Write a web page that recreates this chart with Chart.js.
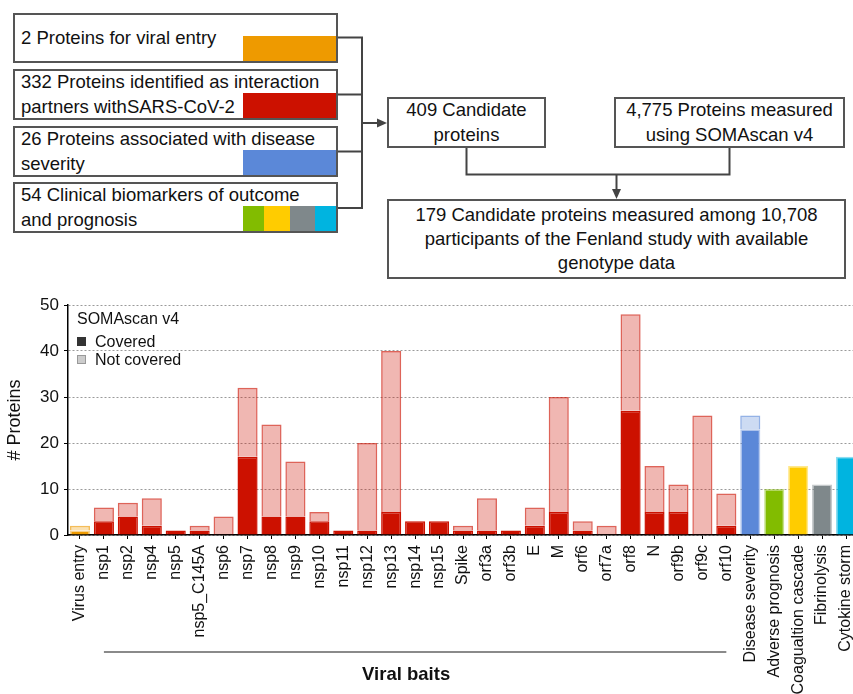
<!DOCTYPE html>
<html>
<head>
<meta charset="utf-8">
<script src="https://cdn.jsdelivr.net/npm/chart.js@4.4.1/dist/chart.umd.min.js"></script>
<style>
  html, body { margin: 0; padding: 0; width: 853px; height: 694px; overflow: hidden; background: #fff; }
  body { position: relative; font-family: "Liberation Sans", Arial, Helvetica, sans-serif; color: #111; }
  .box { position: absolute; box-sizing: border-box; border: 2px solid #555; background: #fff;
         font-size: 18.5px; line-height: 24.5px; display: flex; align-items: center; }
  .src { left: 13px; width: 325px; height: 51px; padding-left: 6px; }
  .mid { justify-content: center; text-align: center; }
  .swatch { position: absolute; right: 0; bottom: 0; height: 25px; display: flex; }
  .swatch span { display: block; height: 100%; }
  #flow { position: absolute; left: 0; top: 0; }
  #chartWrap { position: absolute; left: 0; top: 290px; width: 860px; height: 404px; }
  .leg { position: absolute; font-size: 16px; line-height: 18px; z-index: 2; white-space: nowrap; }
  .sq { position: absolute; left: 0; top: 4px; width: 9px; height: 9px; box-sizing: border-box; }
</style>
</head>
<body>

<svg id="flow" width="853" height="290">
  <g stroke="#444" stroke-width="2" fill="none">
    <path d="M338 37.5 H362 M338 94.5 H362 M338 151.5 H362 M338 208 H362 M362 36.5 V209"/>
    <path d="M362 123 H379"/>
    <path d="M466.5 148 V174.5 H729.5 V148"/>
    <path d="M616.5 174.5 V191"/>
  </g>
  <polygon points="387,123 377,118.5 377,127.5" fill="#444"/>
  <polygon points="616.5,199 612,189 621,189" fill="#444"/>
</svg>

<div class="box src" style="top:13px;height:50px;">2 Proteins for viral entry
  <div class="swatch" style="width:93px;"><span style="width:93px;background:#EE9A00"></span></div>
</div>
<div class="box src" style="top:69px;">332 Proteins identified as interaction<br>partners withSARS-CoV-2
  <div class="swatch" style="width:93px;"><span style="width:93px;background:#CC1100"></span></div>
</div>
<div class="box src" style="top:126px;">26 Proteins associated with disease<br>severity
  <div class="swatch" style="width:93px;"><span style="width:93px;background:#5B88D8"></span></div>
</div>
<div class="box src" style="top:182px;">54 Clinical biomarkers of outcome<br>and prognosis
  <div class="swatch" style="width:93px;">
    <span style="width:21px;background:#82BC00"></span>
    <span style="width:26px;background:#FFCC00"></span>
    <span style="width:25px;background:#7F888B"></span>
    <span style="width:21px;background:#00B4E0"></span>
  </div>
</div>

<div class="box mid" style="left:387px;top:97px;width:159px;height:51px;">409 Candidate<br>proteins</div>
<div class="box mid" style="left:614px;top:97px;width:231px;height:51px;">4,775 Proteins measured<br>using SOMAscan v4</div>
<div class="box mid" style="left:387px;top:199px;width:459px;height:80px;line-height:24px;">179 Candidate proteins measured among 10,708<br>participants of the Fenland study with available<br>genotype data</div>

<div class="leg" style="left:77px;top:310px;">SOMAscan v4</div>
<div class="leg" style="left:77px;top:333px;padding-left:18px;"><span class="sq" style="background:#333;"></span>Covered</div>
<div class="leg" style="left:77px;top:351px;padding-left:18px;"><span class="sq" style="background:#ccc;border:1px solid #999;"></span>Not covered</div>

<div id="chartWrap"><canvas id="chart"></canvas></div>

<script>
const FONT = '"Liberation Sans", Arial, Helvetica, sans-serif';

const categories = [
  'Virus entry', 'nsp1', 'nsp2', 'nsp4', 'nsp5', 'nsp5_C145A', 'nsp6', 'nsp7', 'nsp8', 'nsp9',
  'nsp10', 'nsp11', 'nsp12', 'nsp13', 'nsp14', 'nsp15', 'Spike', 'orf3a', 'orf3b', 'E',
  'M', 'orf6', 'orf7a', 'orf8', 'N', 'orf9b', 'orf9c', 'orf10',
  'Disease severity', 'Adverse prognosis', 'Coagualtion cascade', 'Fibrinolysis', 'Cytokine storm',
];

// which source each bar belongs to
const groups = [
  'entry',
  'bait', 'bait', 'bait', 'bait', 'bait', 'bait', 'bait', 'bait', 'bait',
  'bait', 'bait', 'bait', 'bait', 'bait', 'bait', 'bait', 'bait', 'bait', 'bait',
  'bait', 'bait', 'bait', 'bait', 'bait', 'bait', 'bait', 'bait',
  'severity', 'adverse', 'coagulation', 'fibrinolysis', 'cytokine',
];

const covered = [
  1, 3, 4, 2, 1, 1, 0, 17, 4, 4,
  3, 1, 1, 5, 3, 3, 1, 1, 1, 2,
  5, 1, 0, 27, 5, 5, 0, 2,
  23, 10, 15, 11, 17,
];

const notCovered = [
  1, 3, 3, 6, 0, 1, 4, 15, 20, 12,
  2, 0, 19, 35, 0, 0, 1, 7, 0, 4,
  25, 2, 2, 21, 10, 6, 26, 7,
  3, 0, 0, 0, 0,
];

const yTicks = [0, 10, 20, 30, 40, 50];

const COLOURS = {
  entry: [238, 154, 0],
  bait: [204, 17, 0],
  severity: [91, 136, 216],
  adverse: [130, 188, 0],
  coagulation: [255, 204, 0],
  fibrinolysis: [127, 136, 139],
  cytokine: [0, 180, 224],
};

const rgba = (c, a) => `rgba(${c[0]}, ${c[1]}, ${c[2]}, ${a})`;

const viralBaits = {
  id: 'viralBaits',
  afterDraw(chart) {
    const { ctx, scales: { x } } = chart;
    const x1 = x.getPixelForValue(categories.indexOf('nsp1'));
    const x2 = x.getPixelForValue(categories.indexOf('orf10'));
    ctx.save();
    ctx.strokeStyle = '#8a8a8a';
    ctx.lineWidth = 2;
    ctx.beginPath();
    ctx.moveTo(x1, 362);
    ctx.lineTo(x2, 362);
    ctx.stroke();
    ctx.fillStyle = '#111';
    ctx.font = 'bold 18.5px ' + FONT;
    ctx.textAlign = 'center';
    ctx.textBaseline = 'alphabetic';
    ctx.fillText('Viral baits', (x1 + x2) / 2 - 9, 390);
    ctx.restore();
  },
};

new Chart(document.getElementById('chart').getContext('2d'), {
  type: 'bar',
  data: {
    labels: categories,
    datasets: [
      {
        label: 'Covered',
        data: covered,
        backgroundColor: groups.map(g => rgba(COLOURS[g], 1)),
        borderColor: groups.map(g => (g === 'bait' ? rgba(COLOURS[g], 1) : rgba(COLOURS[g], 0.45))),
        borderWidth: ctx => (ctx.raw ? 1.5 : 0),
        stack: 'proteins',
      },
      {
        label: 'Not covered',
        data: notCovered,
        backgroundColor: groups.map(g => rgba(COLOURS[g], 0.3)),
        borderColor: groups.map(g => rgba(COLOURS[g], 0.65)),
        borderWidth: ctx => (ctx.raw ? 1.5 : 0),
        stack: 'proteins',
      },
    ],
  },
  options: {
    responsive: true,
    maintainAspectRatio: false,
    animation: false,
    layout: { padding: { top: 15, right: 2, left: 0, bottom: 0 } },
    datasets: { bar: { categoryPercentage: 1, barPercentage: 0.84 } },
    plugins: {
      legend: { display: false },
      tooltip: { enabled: false },
    },
    scales: {
      x: {
        stacked: true,
        offset: true,
        grid: { display: true, offset: false, drawOnChartArea: false, drawTicks: true, tickLength: 4, tickColor: '#000', tickWidth: 1 },
        border: { color: '#000', width: 1.5 },
        ticks: {
          autoSkip: false,
          minRotation: 90,
          maxRotation: 90,
          padding: 6,
          color: '#111',
          font: { size: 16, family: FONT },
        },
        afterFit(scale) {
          scale.height = 159;
          scale.paddingLeft = 0;
          scale.paddingRight = 0;
        },
      },
      y: {
        stacked: true,
        min: yTicks[0],
        max: yTicks[yTicks.length - 1],
        afterBuildTicks(scale) {
          scale.ticks = yTicks.map(v => ({ value: v }));
        },
        ticks: { padding: 5, color: '#111', font: { size: 17, family: FONT } },
        grid: { color: '#9a9a9a', lineWidth: 1, tickColor: '#000', tickLength: 4, tickBorderDash: [] },
        border: { color: '#000', width: 1.5, dash: [2, 2] },
        title: {
          display: true,
          text: '# Proteins',
          color: '#111',
          font: { size: 18, family: FONT },
          padding: { top: 4, bottom: 0 },
        },
        afterFit(scale) {
          scale.width = 68;
          scale.paddingTop = 0;
          scale.paddingBottom = 0;
        },
      },
    },
  },
  plugins: [viralBaits],
});
</script>
</body>
</html>
